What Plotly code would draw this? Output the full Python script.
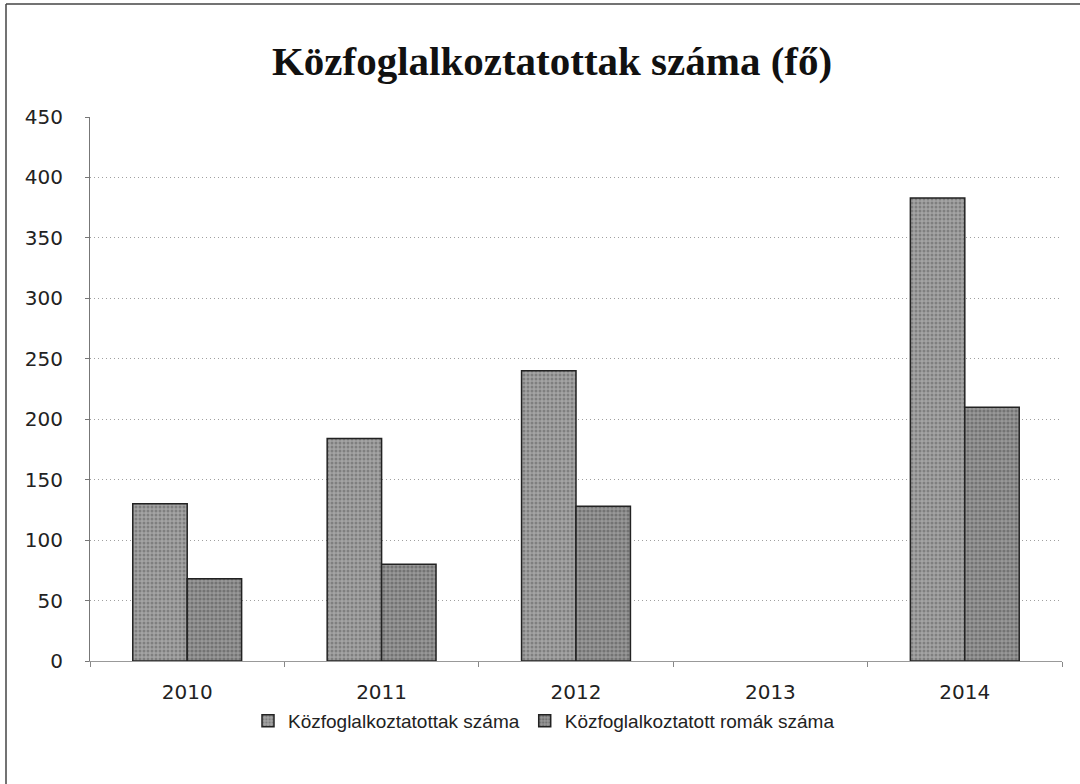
import plotly.graph_objects as go

years = ["2010", "2011", "2012", "2013", "2014"]
kozfoglalkoztatottak = [130, 184, 240, None, 383]
romak = [68, 80, 128, None, 210]
y_ticks = [0, 50, 100, 150, 200, 250, 300, 350, 400, 450]

W, H = 1080, 784
L, R, T, B = 90, 18, 117, 123
PW, PH = W - L - R, H - T - B

fig = go.Figure()
fig.add_trace(go.Bar(
    x=years, y=kozfoglalkoztatottak, name="Közfoglalkoztatottak száma",
    marker=dict(color="#979797", line=dict(color="#222", width=1.5),
                pattern=dict(shape=".", fgcolor="#5a5a5a", bgcolor="#a4a4a4", size=4, solidity=0.45)),
))
fig.add_trace(go.Bar(
    x=years, y=romak, name="Közfoglalkoztatott romák száma",
    marker=dict(color="#8a8a8a", line=dict(color="#222", width=1.5),
                pattern=dict(shape=".", fgcolor="#4e4e4e", bgcolor="#989898", size=4, solidity=0.5)),
))

fig.update_layout(
    width=W, height=H,
    margin=dict(l=L, r=R, t=T, b=B),
    paper_bgcolor="white", plot_bgcolor="white",
    title=dict(text="<b>Közfoglalkoztatottak száma (fő)</b>", x=552 / W, xanchor="center",
               xref="container", yref="container",
               y=1 - 61 / H, yanchor="middle",
               font=dict(family="Liberation Serif", size=41, color="#111")),
    barmode="group", bargap=0.44, bargroupgap=0,
    showlegend=True,
    legend=dict(orientation="h", x=(544 - L) / PW, xanchor="center",
                y=(661 - 721) / PH, yanchor="middle",
                font=dict(family="Liberation Sans", size=19, color="#222"),
                traceorder="normal"),
    font=dict(family="DejaVu Sans", size=20, color="#222"),
)
fig.update_yaxes(
    range=[0, 450], tickvals=y_ticks, showgrid=True, gridcolor="#a0a0a0", griddash="1px,3px",
    gridwidth=1, showline=True, linecolor="#777", linewidth=1, ticks="outside",
    ticklen=4, tickcolor="#777", zeroline=False, ticklabelstandoff=18,
    tickfont=dict(family="DejaVu Sans", size=20, color="#222"),
)
fig.update_xaxes(
    showline=True, linecolor="#999", linewidth=1, ticks="outside", tickson="boundaries",
    ticklen=5, tickcolor="#888", showgrid=False, ticklabelstandoff=13,
    tickfont=dict(family="DejaVu Sans", size=20, color="#222"),
)
# chart frame: only left and top edges are visible in the reference
fig.add_shape(type="line", xref="paper", yref="paper",
              x0=(6 - L) / PW, x1=(6 - L) / PW,
              y0=(661 - 784) / PH, y1=(661 - 4) / PH,
              line=dict(color="#444", width=1.5))
fig.add_shape(type="line", xref="paper", yref="paper",
              x0=(6 - L) / PW, x1=(1080 - L) / PW,
              y0=(661 - 4) / PH, y1=(661 - 4) / PH,
              line=dict(color="#444", width=1.5))

fig.write_html("out.html", config={"displayModeBar": False},
               post_script="document.body.style.margin='0';")
